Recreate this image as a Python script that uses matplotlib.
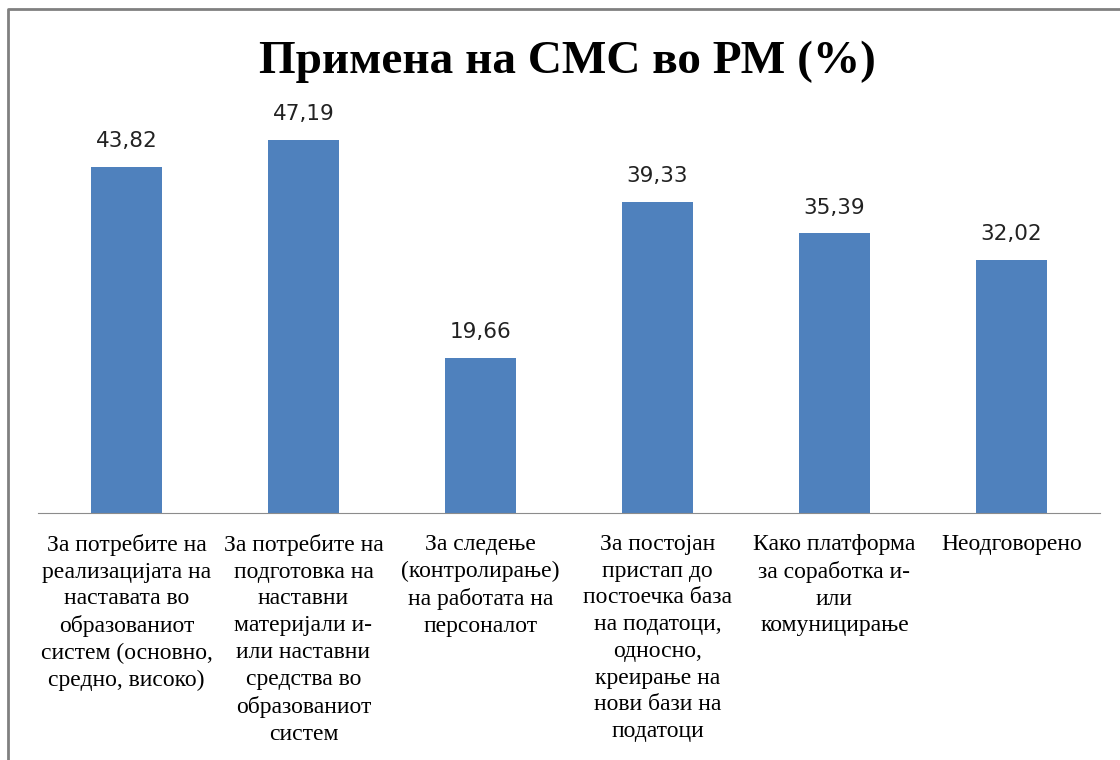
import matplotlib.pyplot as plt
from matplotlib.lines import Line2D

# Податоци од графиконот
categories = [
    "За потребите на\nреализацијата на\nнаставата во\nобразованиот\nсистем (основно,\nсредно, високо)",
    "За потребите на\nподготовка на\nнаставни\nматеријали и-\nили наставни\nсредства во\nобразованиот\nсистем",
    "За следење\n(контролирање)\nна работата на\nперсоналот",
    "За постојан\nпристап до\nпостоечка база\nна податоци,\nодносно,\nкреирање на\nнови бази на\nподатоци",
    "Како платформа\nза соработка и-\nили\nкомуницирање",
    "Неодговорено",
]
values = [43.82, 47.19, 19.66, 39.33, 35.39, 32.02]
title = "Примена на СМС во РМ (%)"

W, H = 1120, 760
fig = plt.figure(figsize=(W / 100, H / 100), dpi=100)
ax = fig.add_axes([38 / W, (H - 513) / H, (1100 - 38) / W, (513 - 118) / H])

x = list(range(len(values)))
bars = ax.bar(x, values, width=0.4, color="#4F81BD")

for xi, v in zip(x, values):
    ax.text(xi, v + 2.0, f"{v:.2f}".replace(".", ","), ha="center", va="bottom",
            fontsize=15.5, family="DejaVu Sans", color="#222222")

ax.set_xlim(-0.5, len(values) - 0.5)
ax.set_ylim(0, 50)
ax.set_xticks(x)
ax.set_xticklabels(categories, family="Liberation Serif", fontsize=17,
                   linespacing=1.36, va="top")
ax.tick_params(axis="x", length=0, pad=15)
ax.set_yticks([])
for s in ["top", "right", "left"]:
    ax.spines[s].set_visible(False)
ax.spines["bottom"].set_color("#8c8c8c")

fig.text(567 / W, (H - 62) / H, title, ha="center", va="center",
         family="Liberation Serif", fontweight="bold", fontsize=34)

# рамка околу графиконот
fig.add_artist(Line2D([8 / W, 8 / W, 1], [0, (H - 9) / H, (H - 9) / H],
                      transform=fig.transFigure, color="#808080", lw=2))

fig.savefig("out.png", dpi=100)
